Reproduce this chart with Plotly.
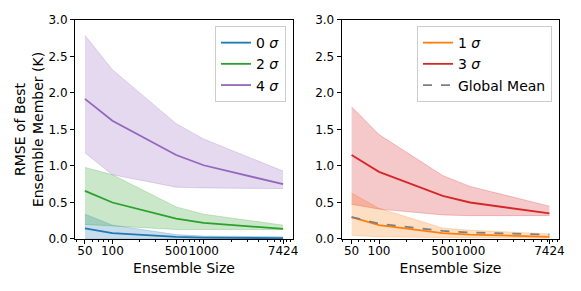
import plotly.graph_objects as go

sizes = [50, 100, 500, 1000, 7424]

# left panel
s0_mean = [0.145, 0.08, 0.03, 0.02, 0.01]
s0_low = [0.0, 0.0, 0.0, 0.0, 0.0]
s0_high = [0.34, 0.19, 0.06, 0.04, 0.03]

s2_mean = [0.66, 0.50, 0.28, 0.22, 0.14]
s2_low = [0.20, 0.18, 0.13, 0.13, 0.13]
s2_high = [0.98, 0.88, 0.44, 0.34, 0.19]

s4_mean = [1.92, 1.62, 1.15, 1.01, 0.75]
s4_low = [1.18, 0.88, 0.71, 0.70, 0.69]
s4_high = [2.79, 2.32, 1.58, 1.37, 0.93]

# right panel
s1_mean = [0.30, 0.19, 0.08, 0.06, 0.03]
s1_low = [0.05, 0.03, 0.02, 0.015, 0.01]
s1_high = [0.63, 0.42, 0.15, 0.12, 0.07]

s3_mean = [1.15, 0.92, 0.59, 0.50, 0.35]
s3_low = [0.475, 0.41, 0.33, 0.32, 0.32]
s3_high = [1.81, 1.43, 0.87, 0.72, 0.45]

global_mean = [0.30, 0.21, 0.11, 0.09, 0.06]

tick_vals = [50, 100, 500, 1000, 7424]
tick_text = ["50", "100", "500", "1000", "7424"]
y_ticks = [0, 0.5, 1.0, 1.5, 2.0, 2.5, 3.0]

C = {
    "blue": (31, 119, 180),
    "orange": (255, 127, 14),
    "green": (44, 160, 44),
    "red": (214, 39, 40),
    "purple": (148, 103, 189),
}

def rgba(c, a):
    return f"rgba({c[0]},{c[1]},{c[2]},{a})"

fig = go.Figure()

def add_series(mean, low, high, col, name, xa, ya, legend):
    fig.add_trace(go.Scatter(x=sizes, y=low, mode="lines",
                             line=dict(color=rgba(col, 0.3), width=0.8),
                             showlegend=False, hoverinfo="skip", xaxis=xa, yaxis=ya))
    fig.add_trace(go.Scatter(x=sizes, y=high, mode="lines", fill="tonexty",
                             fillcolor=rgba(col, 0.25),
                             line=dict(color=rgba(col, 0.3), width=0.8),
                             showlegend=False, hoverinfo="skip", xaxis=xa, yaxis=ya))
    fig.add_trace(go.Scatter(x=sizes, y=mean, mode="lines",
                             line=dict(color=rgba(col, 1), width=1.8),
                             name=name, xaxis=xa, yaxis=ya, legend=legend))

add_series(s0_mean, s0_low, s0_high, C["blue"], "0 <i>σ</i>", "x", "y", "legend")
add_series(s2_mean, s2_low, s2_high, C["green"], "2 <i>σ</i>", "x", "y", "legend")
add_series(s4_mean, s4_low, s4_high, C["purple"], "4 <i>σ</i>", "x", "y", "legend")

add_series(s1_mean, s1_low, s1_high, C["orange"], "1 <i>σ</i>", "x2", "y2", "legend2")
add_series(s3_mean, s3_low, s3_high, C["red"], "3 <i>σ</i>", "x2", "y2", "legend2")
fig.add_trace(go.Scatter(x=sizes, y=global_mean, mode="lines",
                         line=dict(color="#7f7f7f", width=1.8, dash="dash"),
                         name="Global Mean", xaxis="x2", yaxis="y2", legend="legend2"))

minor_vals = [40, 60, 70, 80, 90, 200, 300, 400, 600, 700, 800, 900,
              2000, 3000, 4000, 5000, 6000, 7000, 8000, 9000]

font = "DejaVu Sans"
xcommon = dict(type="log", range=[1.590, 3.979], tickmode="array",
               tickvals=tick_vals, ticktext=tick_text, ticks="outside",
               ticklen=4, tickwidth=1, tickcolor="black", tickangle=0,
               ticklabelstandoff=-3, automargin=False,
               minor=dict(tickmode="array", tickvals=minor_vals, ticks="outside",
                          ticklen=2, tickwidth=0.8, tickcolor="black"),
               showline=True, linecolor="black", linewidth=1, mirror=True,
               showgrid=False, zeroline=False,
               tickfont=dict(size=12, color="black", family=font),
               title=dict(text="Ensemble Size", font=dict(size=14, color="black", family=font),
                          standoff=5))
ycommon = dict(range=[0, 3.0], tickmode="array", tickvals=y_ticks, tickformat=".1f",
               ticks="outside", ticklen=4, tickwidth=1, tickcolor="black",
               showline=True, linecolor="black", linewidth=1, mirror=True,
               showgrid=False, zeroline=False, automargin=False,
               tickfont=dict(size=12, color="black", family=font))

legend_common = dict(bgcolor="rgba(255,255,255,0.8)", bordercolor="#cccccc", borderwidth=1,
                     font=dict(size=14, color="black", family=font),
                     xanchor="right", yanchor="top", tracegroupgap=0,
                     traceorder="normal", itemwidth=30)

fig.update_layout(
    width=581, height=291,
    margin=dict(l=0, r=0, t=0, b=0, autoexpand=False),
    paper_bgcolor="white", plot_bgcolor="white",
    font=dict(family=font, color="black"),
    xaxis=dict(domain=[0.1153, 0.4905], anchor="y", **xcommon),
    yaxis=dict(domain=[0.2062, 0.9588], anchor="x",
               title=dict(text="RMSE of Best<br>Ensemble Member (K)",
                          font=dict(size=14, color="black", family=font), standoff=1),
               **ycommon),
    xaxis2=dict(domain=[0.5743, 0.9489], anchor="y2", **xcommon),
    yaxis2=dict(domain=[0.2062, 0.9588], anchor="x2", **ycommon),
    legend=dict(x=0.4785, y=0.938, **legend_common),
    legend2=dict(x=0.9363, y=0.938, **legend_common),
    showlegend=True,
)

fig.write_html("out.html")
